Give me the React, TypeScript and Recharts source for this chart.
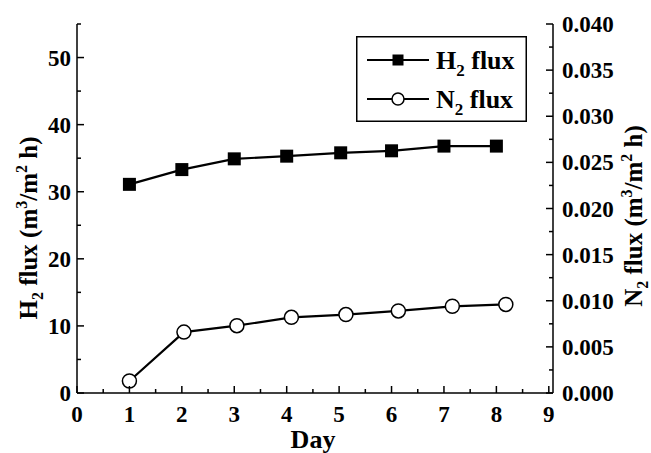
import { Legend, Line, LineChart, XAxis, YAxis } from "recharts";

const FONT = "'Liberation Serif', 'Times New Roman', Times, serif";

// values
const h2Days = [1, 2, 3, 4, 5.03, 6, 7, 8];
const h2Flux = [31.1, 33.3, 34.9, 35.3, 35.8, 36.1, 36.8, 36.8];
const n2Days = [1.0, 2.04, 3.05, 4.09, 5.13, 6.13, 7.16, 8.18];
const n2Flux = [0.0013, 0.0066, 0.0073, 0.0082, 0.0085, 0.0089, 0.0094, 0.0096];

const xTicks = [0, 0.5, 1, 1.5, 2, 2.5, 3, 3.5, 4, 4.5, 5, 5.5, 6, 6.5, 7, 7.5, 8, 8.5, 9];
const h2Ticks = [0, 5, 10, 15, 20, 25, 30, 35, 40, 45, 50, 55];
const n2Ticks = [
  0, 0.0025, 0.005, 0.0075, 0.01, 0.0125, 0.015, 0.0175, 0.02, 0.0225, 0.025, 0.0275, 0.03,
  0.0325, 0.035, 0.0375, 0.04,
];
const seriesNames = ["H", "N"];

const h2Data = h2Days.map((d, i) => ({ x: d, y: h2Flux[i] }));
const n2Data = n2Days.map((d, i) => ({ x: d, y: n2Flux[i] }));

const isMajorN2 = (v: number) => Math.abs(v * 200 - Math.round(v * 200)) < 1e-6;

const BottomTick = (props: any) => {
  const { x, y, payload } = props;
  const major = Number.isInteger(payload.value);
  return (
    <g>
      <line x1={x} y1={y} x2={x} y2={y - (major ? 7 : 4)} stroke="#000" strokeWidth={1.5} />
      {major && (
        <text x={x} y={y + 29} textAnchor="middle" fontSize={23} fontWeight="bold" fontFamily={FONT} fill="#000">
          {payload.value}
        </text>
      )}
    </g>
  );
};

const TopTick = (props: any) => {
  const { x, y, payload } = props;
  const major = Number.isInteger(payload.value);
  return <line x1={x} y1={y} x2={x} y2={y + (major ? 7 : 4)} stroke="#000" strokeWidth={1.5} />;
};

const LeftTick = (props: any) => {
  const { x, y, payload } = props;
  const major = payload.value % 10 === 0;
  return (
    <g>
      <line x1={x} y1={y} x2={x + (major ? 7 : 4)} y2={y} stroke="#000" strokeWidth={1.5} />
      {major && (
        <text x={x - 6} y={y + 8} textAnchor="end" fontSize={23} fontWeight="bold" fontFamily={FONT} fill="#000">
          {payload.value}
        </text>
      )}
    </g>
  );
};

const RightTick = (props: any) => {
  const { x, y, payload } = props;
  const major = isMajorN2(payload.value);
  return (
    <g>
      <line x1={x} y1={y} x2={x - (major ? 7 : 4)} y2={y} stroke="#000" strokeWidth={1.5} />
      {major && (
        <text x={x + 9} y={y + 8} textAnchor="start" fontSize={23} fontWeight="bold" fontFamily={FONT} fill="#000">
          {payload.value.toFixed(3)}
        </text>
      )}
    </g>
  );
};

const SquareDot = (props: any) => {
  const { cx, cy } = props;
  return <rect x={cx - 6.5} y={cy - 6.5} width={13} height={13} fill="#000" />;
};

const CircleDot = (props: any) => {
  const { cx, cy } = props;
  return <circle cx={cx} cy={cy} r={7} fill="#fff" stroke="#000" strokeWidth={1.5} />;
};

const FluxTitle = ({ x, y, letter }: { x: number; y: number; letter: string }) => (
  <text
    x={x}
    y={y}
    transform={`rotate(-90 ${x} ${y})`}
    textAnchor="middle"
    fontFamily={FONT}
    fontWeight="bold"
    fontSize={25}
    fill="#000"
  >
    {letter}
    <tspan fontSize={16} dy={6}>2</tspan>
    <tspan dy={-6}> flux (m</tspan>
    <tspan fontSize={16} dy={-10}>3</tspan>
    <tspan dy={10}>/m</tspan>
    <tspan fontSize={16} dy={-10}>2</tspan>
    <tspan dy={10}> h)</tspan>
  </text>
);

const LegendBox = () => (
  <svg width={171} height={86} style={{ display: "block" }}>
    <rect x={0.75} y={0.75} width={169.5} height={84.5} fill="#fff" stroke="#000" strokeWidth={1.5} />
    {seriesNames.map((name, i) => {
      const cy = 24 + i * 39;
      return (
        <g key={name}>
          <line x1={11} y1={cy} x2={73} y2={cy} stroke="#000" strokeWidth={2} />
          {i === 0 ? (
            <rect x={36.5} y={cy - 5.5} width={11} height={11} fill="#000" />
          ) : (
            <circle cx={42} cy={cy} r={6} fill="#fff" stroke="#000" strokeWidth={1.5} />
          )}
          <text x={80} y={cy + 9} fontFamily={FONT} fontWeight="bold" fontSize={26} fill="#000">
            {name}
            <tspan fontSize={17} dy={7}>2</tspan>
            <tspan dy={-7}> flux</tspan>
          </text>
        </g>
      );
    })}
  </svg>
);

export default function App() {
  return (
    <div style={{ position: "absolute", left: 0, top: 0, background: "#fff" }}>
      <LineChart width={651} height={453} margin={{ top: 24, right: 0, bottom: 0, left: 0 }}>
        <XAxis
          xAxisId="bottom"
          type="number"
          dataKey="x"
          domain={[0, 9.08]}
          ticks={xTicks}
          interval={0}
          height={60}
          tickSize={0}
          tickMargin={0}
          tickLine={false}
          tick={BottomTick}
          axisLine={{ stroke: "#000", strokeWidth: 1.5 }}
          label={() => (
            <text x={313} y={448} textAnchor="middle" fontFamily={FONT} fontWeight="bold" fontSize={26} fill="#000">
              Day
            </text>
          )}
        />
        <XAxis
          xAxisId="top"
          orientation="top"
          type="number"
          dataKey="x"
          domain={[0, 9.08]}
          ticks={xTicks}
          interval={0}
          height={0}
          tickSize={0}
          tickMargin={0}
          tickLine={false}
          tick={TopTick}
          axisLine={{ stroke: "#000", strokeWidth: 1.5 }}
        />
        <YAxis
          yAxisId="h2"
          orientation="left"
          domain={[0, 55]}
          ticks={h2Ticks}
          interval={0}
          width={77}
          tickSize={0}
          tickMargin={0}
          tickLine={false}
          tick={LeftTick}
          axisLine={{ stroke: "#000", strokeWidth: 1.5 }}
          label={() => <FluxTitle x={37} y={228} letter="H" />}
        />
        <YAxis
          yAxisId="n2"
          orientation="right"
          domain={[0, 0.04]}
          ticks={n2Ticks}
          interval={0}
          width={98}
          tickSize={0}
          tickMargin={0}
          tickLine={false}
          tick={RightTick}
          axisLine={{ stroke: "#000", strokeWidth: 1.5 }}
          label={() => <FluxTitle x={642} y={216} letter="N" />}
        />
        <Legend
          layout="horizontal"
          verticalAlign="middle"
          align="center"
          wrapperStyle={{ left: 356, top: 36, width: 171, height: 86 }}
          content={() => <LegendBox />}
        />
        <Line
          xAxisId="bottom"
          yAxisId="h2"
          data={h2Data}
          dataKey="y"
          name="H2 flux"
          stroke="#000"
          strokeWidth={2.2}
          dot={<SquareDot />}
          activeDot={false}
          isAnimationActive={false}
        />
        <Line
          xAxisId="bottom"
          yAxisId="n2"
          data={n2Data}
          dataKey="y"
          name="N2 flux"
          stroke="#000"
          strokeWidth={2.2}
          dot={<CircleDot />}
          activeDot={false}
          isAnimationActive={false}
        />
      </LineChart>
    </div>
  );
}
